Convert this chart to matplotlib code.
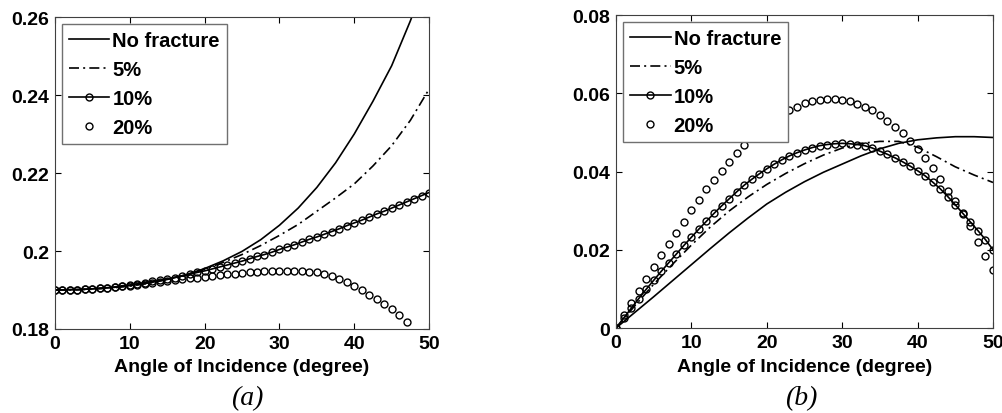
import numpy as np
import matplotlib
matplotlib.use("Agg")
import matplotlib.pyplot as plt

plt.rcParams['font.family'] = ['Liberation Sans', 'DejaVu Sans']
plt.rcParams['font.weight'] = 'bold'
plt.rcParams['font.size'] = 14

# angles: lines sampled every 2.5 deg, markers every 1 deg
ang_line = [0, 2.5, 5, 7.5, 10, 12.5, 15, 17.5, 20, 22.5, 25, 27.5, 30,
            32.5, 35, 37.5, 40, 42.5, 45, 47.5, 50]
ang_deg = list(range(0, 51))

labels = ['No fracture', '5%', '10%', '20%']

# ---- panel (a) ----
a_nofrac = [0.1900, 0.1901, 0.1903, 0.1906, 0.1911, 0.1918, 0.1927, 0.1939,
            0.1955, 0.1975, 0.1999, 0.2029, 0.2066, 0.2110, 0.2163, 0.2226,
            0.2300, 0.2384, 0.2475, 0.2590, 0.2720]
a_5 = [0.1900, 0.1900, 0.1902, 0.1905, 0.1910, 0.1917, 0.1927, 0.1939,
       0.1953, 0.1971, 0.1991, 0.2014, 0.2040, 0.2068, 0.2102, 0.2136,
       0.2172, 0.2218, 0.2270, 0.2335, 0.2415]
a_10 = [0.1900, 0.1900, 0.1901, 0.1901, 0.1902, 0.1903, 0.1905, 0.1906,
        0.1908, 0.1911, 0.1913, 0.1916, 0.1919, 0.1922, 0.1925, 0.1928,
        0.1932, 0.1936, 0.1940, 0.1945, 0.1949, 0.1954, 0.1959, 0.1964,
        0.1969, 0.1974, 0.1980, 0.1986, 0.1991, 0.1997, 0.2004, 0.2010,
        0.2016, 0.2023, 0.2030, 0.2036, 0.2043, 0.2050, 0.2057, 0.2065,
        0.2072, 0.2079, 0.2087, 0.2095, 0.2102, 0.2110, 0.2118, 0.2126,
        0.2134, 0.2142, 0.2150]
a_20 = [0.1900, 0.1900, 0.1900, 0.1901, 0.1902, 0.1903, 0.1904, 0.1905,
        0.1907, 0.1909, 0.1911, 0.1913, 0.1915, 0.1917, 0.1920, 0.1922,
        0.1925, 0.1927, 0.1930, 0.1932, 0.1934, 0.1936, 0.1938, 0.1940,
        0.1942, 0.1944, 0.1946, 0.1947, 0.1948, 0.1949, 0.1949, 0.1949,
        0.1949, 0.1948, 0.1947, 0.1945, 0.1941, 0.1936, 0.1929, 0.1920,
        0.1910, 0.1899, 0.1888, 0.1877, 0.1864, 0.1851, 0.1836, 0.1819]

# ---- panel (b) ----
b_nofrac = [0.0, 0.0040, 0.0080, 0.0121, 0.0162, 0.0203, 0.0243, 0.0281,
            0.0317, 0.0347, 0.0374, 0.0398, 0.0419, 0.0440, 0.0458, 0.0472,
            0.0481, 0.0486, 0.0489, 0.0489, 0.0487]
b_5 = [0.0, 0.0057, 0.0112, 0.0163, 0.0212, 0.0258, 0.0299, 0.0335,
       0.0367, 0.0395, 0.0420, 0.0442, 0.0460, 0.0472, 0.0477, 0.0477,
       0.0462, 0.0438, 0.0412, 0.0391, 0.0372]
b_10 = [0.0000, 0.0025, 0.0050, 0.0075, 0.0099, 0.0122, 0.0145, 0.0167,
        0.0189, 0.0211, 0.0232, 0.0253, 0.0273, 0.0293, 0.0312, 0.0330,
        0.0348, 0.0365, 0.0380, 0.0394, 0.0407, 0.0419, 0.0430, 0.0440,
        0.0448, 0.0455, 0.0461, 0.0466, 0.0469, 0.0471, 0.0472, 0.0471,
        0.0469, 0.0466, 0.0460, 0.0452, 0.0444, 0.0435, 0.0425, 0.0414,
        0.0402, 0.0389, 0.0373, 0.0356, 0.0336, 0.0315, 0.0293, 0.0271,
        0.0249, 0.0226, 0.0200]
b_20 = [0.0000, 0.0033, 0.0064, 0.0095, 0.0125, 0.0155, 0.0187, 0.0215,
        0.0243, 0.0272, 0.0302, 0.0328, 0.0355, 0.0379, 0.0402, 0.0425,
        0.0447, 0.0468, 0.0487, 0.0504, 0.0519, 0.0533, 0.0545, 0.0556,
        0.0566, 0.0574, 0.0580, 0.0584, 0.0585, 0.0585, 0.0583, 0.0579,
        0.0573, 0.0566, 0.0557, 0.0545, 0.0530, 0.0515, 0.0498, 0.0479,
        0.0458, 0.0434, 0.0408, 0.0381, 0.0351, 0.0325, 0.0291, 0.0262,
        0.0219, 0.0185, 0.0147]

a_yticks = [0.18, 0.2, 0.22, 0.24, 0.26]
a_ytick_labels = ['0.18', '0.2', '0.22', '0.24', '0.26']
b_yticks = [0, 0.02, 0.04, 0.06, 0.08]
b_ytick_labels = ['0', '0.02', '0.04', '0.06', '0.08']
xticks = [0, 10, 20, 30, 40, 50]

dashdot = (0, (6, 2.5, 1.2, 2.5))
frame_col = '#404040'

fig = plt.figure(figsize=(10.02, 4.14), dpi=100)
ax_a = fig.add_axes([0.0549, 0.2029, 0.3733, 0.7536])
ax_b = fig.add_axes([0.6148, 0.2053, 0.3762, 0.7560])


def draw(ax, nofrac, p5, p10, p20, yticks, ylabels, caption, cap_x):
    ax.plot(ang_line, nofrac, '-', color='k', lw=1.2, label=labels[0])
    ax.plot(ang_line, p5, color='k', lw=1.2, linestyle=dashdot, label=labels[1])
    ax.plot(ang_deg[:len(p10)], p10, '-o', color='k', lw=1.2, ms=5, mew=1,
            mfc='none', label=labels[2])
    ax.plot(ang_deg[:len(p20)], p20, 'o', color='k', ms=5, mew=1,
            mfc='none', label=labels[3])
    ax.set_xlim(0, 50)
    ax.set_ylim(yticks[0], yticks[-1])
    ax.set_xticks(xticks)
    ax.set_yticks(yticks)
    ax.set_yticklabels(ylabels)
    ax.tick_params(direction='in', top=True, right=True, length=4,
                   width=0.8, pad=4, colors='k')
    for s in ax.spines.values():
        s.set_color(frame_col)
        s.set_linewidth(0.8)
    ax.set_xlabel('Angle of Incidence (degree)', fontweight='bold', labelpad=5)
    leg = ax.legend(loc='upper left', bbox_to_anchor=(0.019, 0.978),
                    borderaxespad=0, fancybox=False, framealpha=1,
                    edgecolor='#707070', handlelength=2.0, handletextpad=0.15,
                    borderpad=0.35, labelspacing=0.5, numpoints=1,
                    prop={'weight': 'bold', 'size': 14.5})
    leg.get_frame().set_linewidth(1.0)
    fig.text(cap_x, 0.038, caption, ha='center', va='center',
             family='Liberation Serif', style='italic', weight='normal',
             fontsize=20)


draw(ax_a, a_nofrac, a_5, a_10, a_20, a_yticks, a_ytick_labels, '(a)', 0.247)
draw(ax_b, b_nofrac, b_5, b_10, b_20, b_yticks, b_ytick_labels, '(b)', 0.800)

fig.savefig('out.png', dpi=100)
